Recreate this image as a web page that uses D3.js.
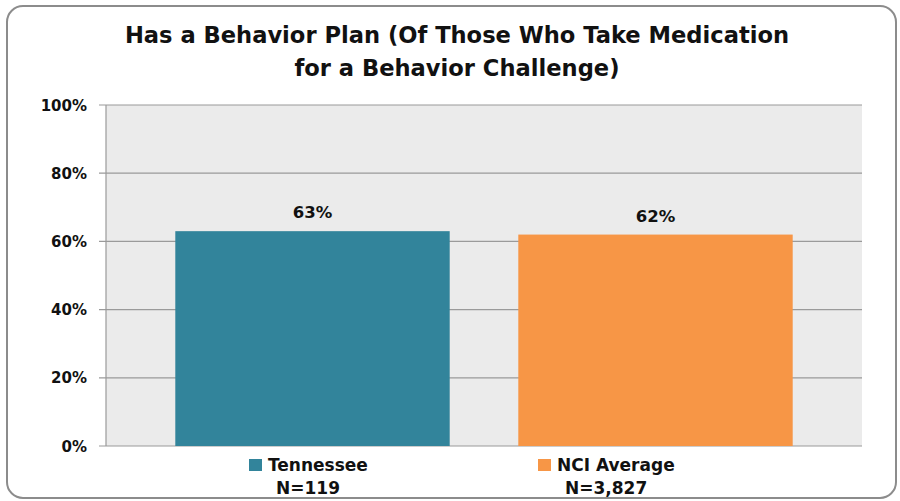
<!DOCTYPE html>
<html><head><meta charset="utf-8">
<script src="https://cdn.jsdelivr.net/npm/d3@7"></script>
<style>body{margin:0;background:#fff}svg{display:block}text{font-family:"DejaVu Sans",sans-serif;font-weight:700;fill:#111}</style>
</head><body>
<script>
const categories = ["Tennessee", "NCI Average"];
const nLabels = ["N=119", "N=3,827"];
const values = [63, 62];
const colors = ["#32849b", "#f79646"];
const yTicks = [0, 20, 40, 60, 80, 100];
const titleLines = ["Has a Behavior Plan (Of Those Who Take Medication", "for a Behavior Challenge)"];

const W = 900, H = 501;
const svg = d3.select("body").append("svg").attr("width", W).attr("height", H);

svg.append("rect").attr("x", 7).attr("y", 6).attr("width", 889).attr("height", 492)
  .attr("rx", 16).attr("fill", "#fff").attr("stroke", "#8c8c8c").attr("stroke-width", 2);

const plot = {left: 106, right: 862, top: 105, bottom: 446};
svg.append("rect").attr("x", plot.left).attr("y", plot.top)
  .attr("width", plot.right - plot.left).attr("height", plot.bottom - plot.top).attr("fill", "#ebebeb");

const y = d3.scaleLinear().domain([0, 100]).range([plot.bottom, plot.top]);
const x = d3.scaleBand().domain(categories).range([141, 827]).paddingInner(0.2).paddingOuter(0.1);

svg.append("g").selectAll("line").data(yTicks).join("line")
  .attr("x1", plot.left - 7).attr("x2", plot.right)
  .attr("y1", d => y(d)).attr("y2", d => y(d))
  .attr("stroke", "#9a9a9a").attr("stroke-width", 1.2);

svg.append("line").attr("x1", plot.left).attr("x2", plot.left).attr("y1", plot.top).attr("y2", plot.bottom)
  .attr("stroke", "#9a9a9a").attr("stroke-width", 1.2);

svg.append("g").selectAll("text").data(yTicks).join("text")
  .attr("x", 87).attr("y", d => y(d) + 5.5).attr("text-anchor", "end")
  .attr("font-size", 15).text(d => d + "%");

svg.append("g").selectAll("rect").data(values).join("rect")
  .attr("x", (d, i) => x(categories[i])).attr("width", x.bandwidth())
  .attr("y", d => y(d)).attr("height", d => y(0) - y(d))
  .attr("fill", (d, i) => colors[i]);

svg.append("g").selectAll("text").data(values).join("text")
  .attr("x", (d, i) => x(categories[i]) + x.bandwidth() / 2)
  .attr("y", d => y(d) - 13).attr("text-anchor", "middle")
  .attr("font-size", 16.5).text(d => d + "%");

svg.append("g").selectAll("text").data(titleLines).join("text")
  .attr("x", 457).attr("y", (d, i) => 43 + i * 33).attr("text-anchor", "middle")
  .attr("font-size", 22.6).text(d => d);

const legX = [249, 538];
const leg = svg.append("g").selectAll("g").data(categories).join("g");
leg.append("rect").attr("x", (d, i) => legX[i]).attr("y", 459).attr("width", 13).attr("height", 12)
  .attr("fill", (d, i) => colors[i]);
leg.append("text").attr("x", (d, i) => legX[i] + 19).attr("y", 471).attr("font-size", 17).text(d => d);
leg.append("text").attr("x", (d, i) => legX[i] + 27).attr("y", 494).attr("font-size", 17).text((d, i) => nLabels[i]);
</script>
</body></html>
